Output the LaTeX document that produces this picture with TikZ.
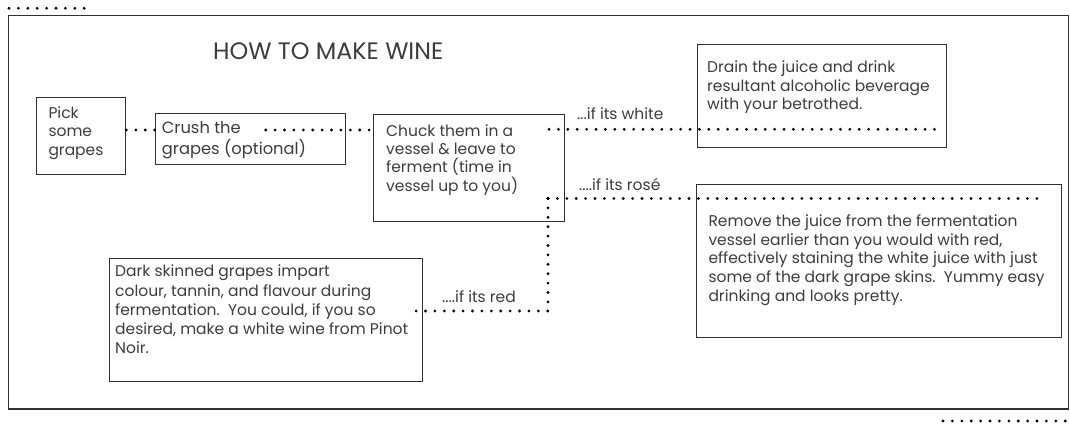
\documentclass[tikz,border=0pt]{standalone}
\usepackage{fontspec}
\setmainfont{Poppins}
\definecolor{boxc}{HTML}{303030}
\definecolor{txtc}{HTML}{3C3C3C}
\newcommand{\fl}{\rule{0pt}{15pt}}
\begin{document}
\begin{tikzpicture}[x=1pt,y=-1pt,
  box/.style={draw=boxc, line width=1.4pt, inner sep=0pt, anchor=north west},
  txt/.style={inner sep=0pt, anchor=north west, align=left, text=txtc,
    font=\fontsize{15.5}{18.3}\selectfont},
  lbl/.style={inner sep=0pt, anchor=base west, text=txtc,
    font=\fontsize{15.5}{18.3}\selectfont},
  dots/.style={line width=3.1pt, line cap=round, dash pattern=on 0pt off 9.4pt, black}]
\useasboundingbox (0,0) rectangle (1070,425);
% outer frame
\draw[draw=boxc, line width=1.5pt] (8.5,15.7) rectangle (1068.5,409);
% decorative dots
\coordinate (tl0) at (9,8.3);
\coordinate (tl1) at (90,8.3);
\coordinate (br0) at (943,421);
\coordinate (br1) at (1068,421);
\draw[dots] (tl0) -- (tl1);
\draw[dots] (br0) -- (br1);
% title
\node[lbl, font=\fontsize{23.8}{28}\selectfont] (title) at (213,60) {HOW TO MAKE WINE};
% boxes
\node[box, minimum width=89.3pt, minimum height=77pt] (pick) at (35.7,96.7) {};
\node[box, minimum width=190pt, minimum height=51pt] (crush) at (155,112.7) {};
\node[box, minimum width=191.3pt, minimum height=106.5pt] (chuck) at (372.7,114) {};
\node[box, minimum width=249pt, minimum height=102.5pt] (drain) at (696.7,44) {};
\node[box, minimum width=365pt, minimum height=153pt] (remove) at (696,184) {};
\node[box, minimum width=313pt, minimum height=123pt] (dark) at (109,258) {};
% texts
\node[txt] (tpick) at (48.3,103.3) {\fl Pick\\some\\grapes};
\node[txt, font=\fontsize{16.3}{20.7}\selectfont] (tcrush) at (161.7,118.3) {\fl Crush the\\grapes (optional)};
\node[txt] (tchuck) at (386,121) {\fl Chuck them in a\\vessel \& leave to\\ferment (time in\\vessel up to you)};
\node[txt] (tdrain) at (707,57.7) {\fl Drain the juice and drink\\resultant alcoholic beverage\\with your betrothed.};
\node[txt, font=\fontsize{15.5}{18.8}\selectfont] (tremove) at (708.3,211) {\fl Remove the juice from the fermentation\\vessel earlier than you would with red,\\effectively staining the white juice with just\\some of the dark grape skins.\ \ Yummy easy\\drinking and looks pretty.};
\node[txt, font=\fontsize{15.5}{19.15}\selectfont] (tdark) at (115,261.7) {\fl Dark skinned grapes impart\\colour, tannin, and flavour during\\fermentation.\ \ You could, if you so\\desired, make a white wine from Pinot\\Noir.};
% labels
\node[lbl] (lwhite) at (577,120) {...if its white};
\node[lbl] (lrose) at (579,190) {....if its rosé};
\node[lbl] (lred) at (442,302) {....if its red};
% connectors
\coordinate (c1) at (265.7,130);
\coordinate (w0) at (549,129.3);
\coordinate (w1) at (935,129.3);
\coordinate (r0) at (548,198.5);
\coordinate (r1) at (1038,198.5);
\coordinate (rc) at (548,311);
\coordinate (re) at (416,311);
\draw[dots] (pick.east |- c1) -- (crush.west |- c1);
\draw[dots] (c1) -- (chuck.west |- c1);
\draw[dots] (w0) -- (w1);
\draw[dots] (r0) -- (r1);
\draw[dots] (r0) -- (rc) -- (re);
\end{tikzpicture}
\end{document}
